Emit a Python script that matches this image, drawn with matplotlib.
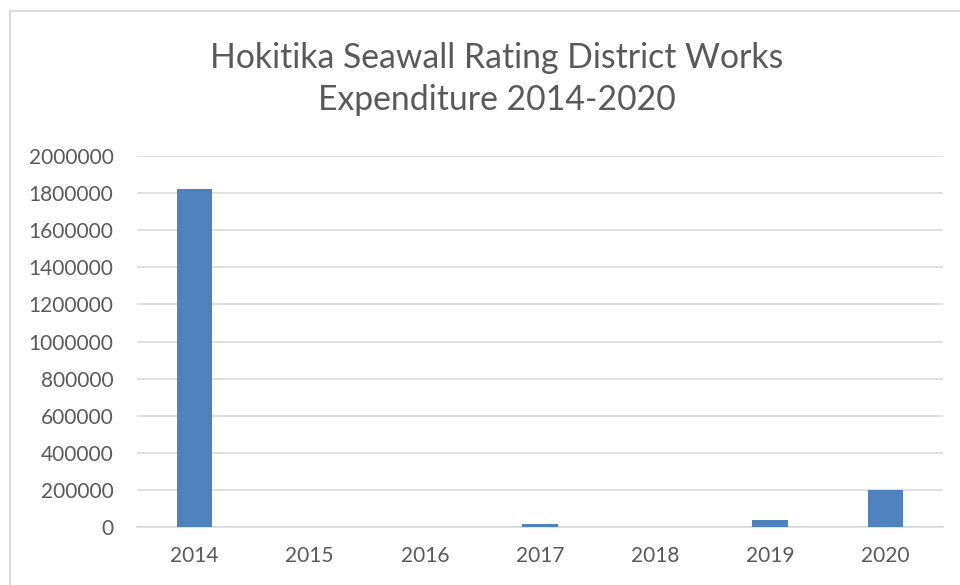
import matplotlib
matplotlib.use("Agg")
import matplotlib.pyplot as plt
from matplotlib.lines import Line2D

years = ['2014', '2015', '2016', '2017', '2018', '2019', '2020']
expenditure = [1820000, 0, 0, 18000, 0, 40000, 200000]
y_ticks = [0, 200000, 400000, 600000, 800000, 1000000, 1200000,
           1400000, 1600000, 1800000, 2000000]

plt.rcParams['font.family'] = ['Lato', 'DejaVu Sans']

fig = plt.figure(figsize=(9.6, 5.85), dpi=100)
ax = fig.add_axes([137 / 960, 1 - 527 / 585, 806 / 960, 371 / 585])

x = range(len(years))
ax.bar(x, expenditure, width=0.31, color='#4F81BD', zorder=3)

ax.set_xlim(-0.5, len(years) - 0.5)
ax.set_ylim(0, 2000000)
ax.set_yticks(y_ticks)
ax.set_yticklabels([str(v) for v in y_ticks])
ax.set_xticks(list(x))
ax.set_xticklabels(years)

ax.grid(axis='y', color='#D9D9D9', linewidth=1.2, zorder=0)
for side in ['top', 'right', 'left']:
    ax.spines[side].set_visible(False)
ax.spines['bottom'].set_color('#D9D9D9')
ax.spines['bottom'].set_linewidth(1.2)
ax.tick_params(axis='both', length=0, labelsize=15, colors='#595959')
ax.tick_params(axis='y', pad=17)
ax.tick_params(axis='x', pad=14)

fig.text(497 / 960, 1 - 79 / 585,
         'Hokitika Seawall Rating District Works\nExpenditure 2014-2020',
         ha='center', va='center', fontsize=24.3, color='#595959',
         linespacing=1.35)

# chart border (top and left edges visible)
fig.add_artist(Line2D([10 / 960, 10 / 960], [0, 1 - 11 / 585],
                      transform=fig.transFigure, color='#D9D9D9', linewidth=1.5))
fig.add_artist(Line2D([10 / 960, 1], [1 - 11 / 585, 1 - 11 / 585],
                      transform=fig.transFigure, color='#D9D9D9', linewidth=1.5))

fig.savefig('out.png', dpi=100)
